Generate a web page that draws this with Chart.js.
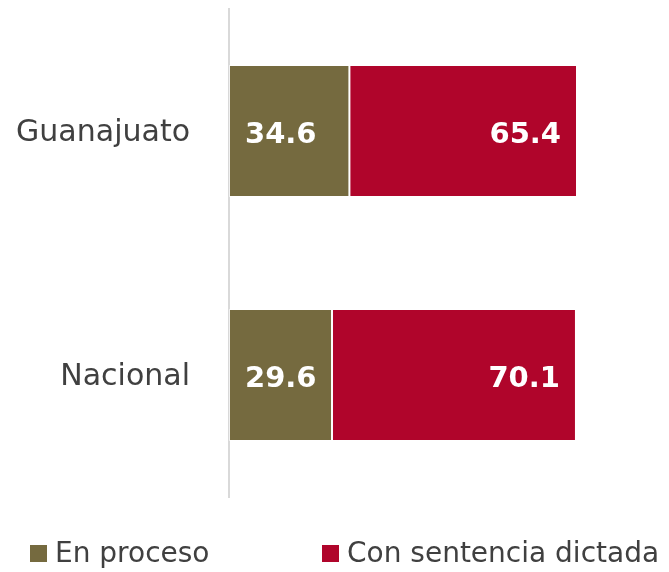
<!DOCTYPE html>
<html>
<head>
<meta charset="utf-8">
<script src="https://cdn.jsdelivr.net/npm/chart.js@4"></script>
<style>
  body { margin: 0; background: #fff; }
  #wrap { position: relative; width: 669px; height: 572px; }
  #legend { position: absolute; left: 0; top: 534px; width: 669px; height: 38px; font-family: "DejaVu Sans", sans-serif; font-size: 28px; line-height: 38px; color: #404040; }
  .item { position: absolute; top: 0; white-space: nowrap; }
  .box { display: inline-block; width: 17px; height: 17px; margin-right: 8px; vertical-align: 0px; }
</style>
</head>
<body>
<div id="wrap">
  <canvas id="chart" width="669" height="572"></canvas>
  <div id="legend"></div>
</div>
<script>
// categorías y series
const categorias = ["Guanajuato", "Nacional"];
const enProceso = [34.6, 29.6];
const conSentencia = [65.4, 70.1];
const nombres = ["En proceso", "Con sentencia dictada"];
const colores = ["#756a3f", "#b0052b"];

// etiquetas de valor dentro de las barras
const etiquetas = {
  id: "etiquetas",
  afterDatasetsDraw(chart) {
    const ctx = chart.ctx;
    ctx.save();
    ctx.font = "bold 29px 'DejaVu Sans', sans-serif";
    ctx.fillStyle = "#fff";
    ctx.textBaseline = "middle";
    chart.data.datasets.forEach((ds, i) => {
      chart.getDatasetMeta(i).data.forEach((bar, j) => {
        const txt = ds.data[j].toFixed(1);
        if (i === 0) {
          ctx.textAlign = "left";
          ctx.fillText(txt, bar.base + 16, bar.y + 4);
        } else {
          ctx.textAlign = "right";
          ctx.fillText(txt, bar.x - 16, bar.y + 4);
        }
      });
    });
    ctx.restore();
  }
};

const ctx = document.getElementById("chart").getContext("2d");
new Chart(ctx, {
  type: "bar",
  data: {
    labels: categorias,
    datasets: [
      { label: nombres[0], data: enProceso, backgroundColor: colores[0], borderColor: "rgba(255,255,255,0.6)", borderWidth: 1, borderSkipped: false },
      { label: nombres[1], data: conSentencia, backgroundColor: colores[1], borderColor: "rgba(255,255,255,0.6)", borderWidth: 1, borderSkipped: false },
    ],
  },
  options: {
    indexAxis: "y",
    responsive: false,
    animation: false,
    barPercentage: 0.542,
    categoryPercentage: 1,
    layout: { padding: { top: 9, right: 92, bottom: 75, left: 0 } },
    scales: {
      x: { stacked: true, min: 0, max: 100, display: false },
      y: {
        stacked: true,
        grid: { display: false, drawTicks: false },
        border: { display: true, color: "#d9d9d9", width: 2 },
        ticks: { color: "#404040", font: { family: "'DejaVu Sans', sans-serif", size: 30 }, padding: 39, labelOffset: 2 },
        afterFit(axis) {
          axis.width = 229;
          axis.paddingTop = 0;
          axis.paddingBottom = 0;
        },
      },
    },
    plugins: { legend: { display: false }, tooltip: { enabled: false } },
  },
  plugins: [etiquetas],
});

// leyenda
const legend = document.getElementById("legend");
const posiciones = [30, 322];
nombres.forEach((n, i) => {
  const d = document.createElement("div");
  d.className = "item";
  d.style.left = posiciones[i] + "px";
  d.innerHTML = '<span class="box" style="background:' + colores[i] + '"></span>' + n;
  legend.appendChild(d);
});
</script>
</body>
</html>
